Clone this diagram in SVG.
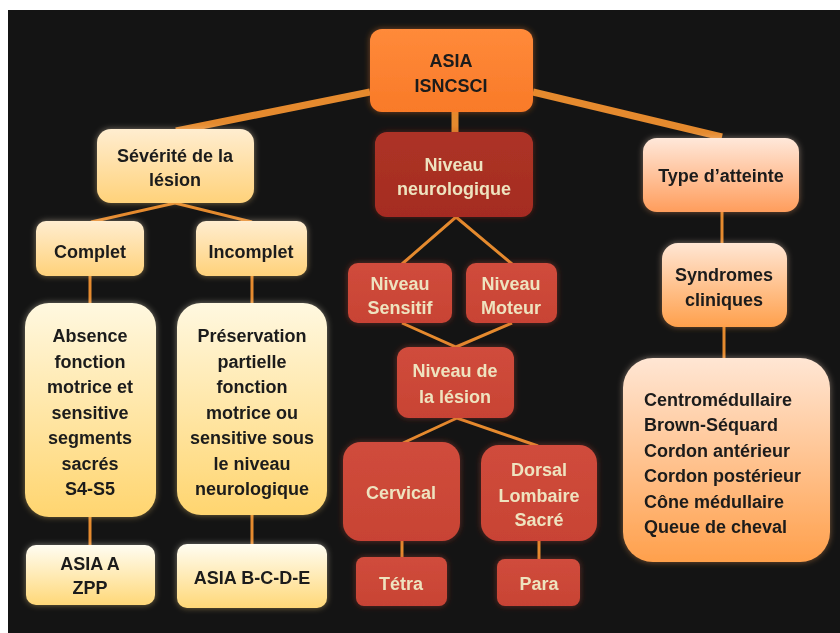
<svg xmlns="http://www.w3.org/2000/svg" width="840" height="633" viewBox="0 0 840 633">
<defs>
<style>
text{font-family:"Liberation Sans",Arial,sans-serif;font-weight:bold;font-size:18px;text-anchor:middle}
.dk{fill:#1a1a1a}
.lt{fill:#eee3bf}
.thick{stroke:#e58a2e;stroke-width:7;fill:none}
.thin{stroke:#e58a2e;stroke-width:3;fill:none}
.box{filter:url(#glow)}
</style>
<filter id="glow" x="-20%" y="-20%" width="140%" height="140%">
<feGaussianBlur in="SourceGraphic" stdDeviation="3" result="b"/>
<feComponentTransfer in="b" result="c"><feFuncA type="linear" slope="0.45"/></feComponentTransfer>
<feMerge><feMergeNode in="c"/><feMergeNode in="SourceGraphic"/></feMerge>
</filter>
<linearGradient id="gOr" x1="0" y1="0" x2="0" y2="1"><stop offset="0" stop-color="#ff8a3a"/><stop offset="1" stop-color="#f97a28"/></linearGradient>
<linearGradient id="gCream" x1="0" y1="0" x2="0" y2="1"><stop offset="0" stop-color="#ffedd0"/><stop offset="1" stop-color="#ffd27a"/></linearGradient>
<linearGradient id="gCream2" x1="0" y1="0" x2="0" y2="1"><stop offset="0" stop-color="#fff8e0"/><stop offset="1" stop-color="#ffd56f"/></linearGradient>
<linearGradient id="gCream3" x1="0" y1="0" x2="0" y2="1"><stop offset="0" stop-color="#fffdf2"/><stop offset="1" stop-color="#ffd878"/></linearGradient>
<linearGradient id="gPeach" x1="0" y1="0" x2="0" y2="1"><stop offset="0" stop-color="#ffe8da"/><stop offset="1" stop-color="#ff9d5c"/></linearGradient>
<linearGradient id="gPeach2" x1="0" y1="0" x2="0" y2="1"><stop offset="0" stop-color="#ffe6d4"/><stop offset="1" stop-color="#ffa04c"/></linearGradient>
<linearGradient id="gDred" x1="0" y1="0" x2="0" y2="1"><stop offset="0" stop-color="#ad3326"/><stop offset="1" stop-color="#a52c21"/></linearGradient>
<linearGradient id="gRed" x1="0" y1="0" x2="0" y2="1"><stop offset="0" stop-color="#d04c3c"/><stop offset="1" stop-color="#c84334"/></linearGradient>
</defs>
<rect x="0" y="0" width="840" height="633" fill="#ffffff"/>
<rect x="8" y="10" width="832" height="623" fill="#141414"/>

<g id="connectors">
<line class="thick" x1="370" y1="92" x2="176" y2="131"/>
<line class="thick" x1="533" y1="92" x2="722" y2="137"/>
<line class="thick" x1="455" y1="112" x2="455" y2="133"/>
<polyline class="thin" points="91,222 175,203 252,222"/>
<line class="thin" x1="90" y1="276" x2="90" y2="304"/>
<line class="thin" x1="252" y1="276" x2="252" y2="304"/>
<line class="thin" x1="90" y1="516" x2="90" y2="546"/>
<line class="thin" x1="252" y1="514" x2="252" y2="545"/>
<polyline class="thin" points="402,264 456,217 512,264"/>
<polyline class="thin" points="402,323 456,347 512,323"/>
<polyline class="thin" points="403,443 457,418 538,446"/>
<line class="thin" x1="402" y1="540" x2="402" y2="558"/>
<line class="thin" x1="539" y1="540" x2="539" y2="560"/>
<line class="thin" x1="722" y1="211" x2="722" y2="244"/>
<line class="thin" x1="724" y1="326" x2="724" y2="359"/>
</g>

<g id="asia" class="box">
<rect x="370" y="29" width="163" height="83" rx="12" fill="url(#gOr)"/>
<text class="dk" x="451" y="67">ASIA</text>
<text class="dk" x="451" y="92">ISNCSCI</text>
</g>

<g id="severite" class="box">
<rect x="97" y="129" width="157" height="74" rx="14" fill="url(#gCream)"/>
<text class="dk" x="175" y="162">Sévérité de la</text>
<text class="dk" x="175" y="186">lésion</text>
</g>

<g id="complet" class="box">
<rect x="36" y="221" width="108" height="55" rx="10" fill="url(#gCream)"/>
<text class="dk" x="90" y="258">Complet</text>
</g>

<g id="incomplet" class="box">
<rect x="196" y="221" width="111" height="55" rx="10" fill="url(#gCream)"/>
<text class="dk" x="251" y="258">Incomplet</text>
</g>

<g id="absence" class="box">
<rect x="25" y="303" width="131" height="214" rx="24" fill="url(#gCream2)"/>
<text class="dk" x="90" y="342">Absence</text>
<text class="dk" x="90" y="368">fonction</text>
<text class="dk" x="90" y="393">motrice et</text>
<text class="dk" x="90" y="419">sensitive</text>
<text class="dk" x="90" y="444">segments</text>
<text class="dk" x="90" y="470">sacrés</text>
<text class="dk" x="90" y="495">S4-S5</text>
</g>

<g id="preservation" class="box">
<rect x="177" y="303" width="150" height="212" rx="24" fill="url(#gCream2)"/>
<text class="dk" x="252" y="342">Préservation</text>
<text class="dk" x="252" y="368">partielle</text>
<text class="dk" x="252" y="393">fonction</text>
<text class="dk" x="252" y="419">motrice ou</text>
<text class="dk" x="252" y="444">sensitive sous</text>
<text class="dk" x="252" y="470">le niveau</text>
<text class="dk" x="252" y="495">neurologique</text>
</g>

<g id="asiaA" class="box">
<rect x="26" y="545" width="129" height="60" rx="10" fill="url(#gCream3)"/>
<text class="dk" x="90" y="570">ASIA A</text>
<text class="dk" x="90" y="594">ZPP</text>
</g>

<g id="asiaBCDE" class="box">
<rect x="177" y="544" width="150" height="64" rx="10" fill="url(#gCream3)"/>
<text class="dk" x="252" y="584">ASIA B-C-D-E</text>
</g>

<g id="neuro" class="box">
<rect x="375" y="132" width="158" height="85" rx="12" fill="url(#gDred)"/>
<text class="lt" x="454" y="171">Niveau</text>
<text class="lt" x="454" y="195">neurologique</text>
</g>

<g id="sensitif" class="box">
<rect x="348" y="263" width="104" height="60" rx="10" fill="url(#gRed)"/>
<text class="lt" x="400" y="290">Niveau</text>
<text class="lt" x="400" y="314">Sensitif</text>
</g>

<g id="moteur" class="box">
<rect x="466" y="263" width="91" height="60" rx="10" fill="url(#gRed)"/>
<text class="lt" x="511" y="290">Niveau</text>
<text class="lt" x="511" y="314">Moteur</text>
</g>

<g id="lesion" class="box">
<rect x="397" y="347" width="117" height="71" rx="12" fill="url(#gRed)"/>
<text class="lt" x="455" y="377">Niveau de</text>
<text class="lt" x="455" y="403">la lésion</text>
</g>

<g id="cervical" class="box">
<rect x="343" y="442" width="117" height="99" rx="18" fill="url(#gRed)"/>
<text class="lt" x="401" y="499">Cervical</text>
</g>

<g id="dorsal" class="box">
<rect x="481" y="445" width="116" height="96" rx="18" fill="url(#gRed)"/>
<text class="lt" x="539" y="476">Dorsal</text>
<text class="lt" x="539" y="502">Lombaire</text>
<text class="lt" x="539" y="526">Sacré</text>
</g>

<g id="tetra" class="box">
<rect x="356" y="557" width="91" height="49" rx="8" fill="url(#gRed)"/>
<text class="lt" x="401" y="590">Tétra</text>
</g>

<g id="para" class="box">
<rect x="497" y="559" width="83" height="47" rx="8" fill="url(#gRed)"/>
<text class="lt" x="539" y="590">Para</text>
</g>

<g id="type" class="box">
<rect x="643" y="138" width="156" height="74" rx="14" fill="url(#gPeach)"/>
<text class="dk" x="721" y="182">Type d’atteinte</text>
</g>

<g id="syndromes" class="box">
<rect x="662" y="243" width="125" height="84" rx="16" fill="url(#gPeach2)"/>
<text class="dk" x="724" y="281">Syndromes</text>
<text class="dk" x="724" y="306">cliniques</text>
</g>

<g id="liste" class="box">
<rect x="623" y="358" width="207" height="204" rx="30" fill="url(#gPeach2)"/>
<text class="dk" x="644" y="406" text-anchor="start" style="text-anchor:start">Centromédullaire</text>
<text class="dk" x="644" y="431" style="text-anchor:start">Brown-Séquard</text>
<text class="dk" x="644" y="457" style="text-anchor:start">Cordon antérieur</text>
<text class="dk" x="644" y="482" style="text-anchor:start">Cordon postérieur</text>
<text class="dk" x="644" y="508" style="text-anchor:start">Cône médullaire</text>
<text class="dk" x="644" y="533" style="text-anchor:start">Queue de cheval</text>
</g>
</svg>
